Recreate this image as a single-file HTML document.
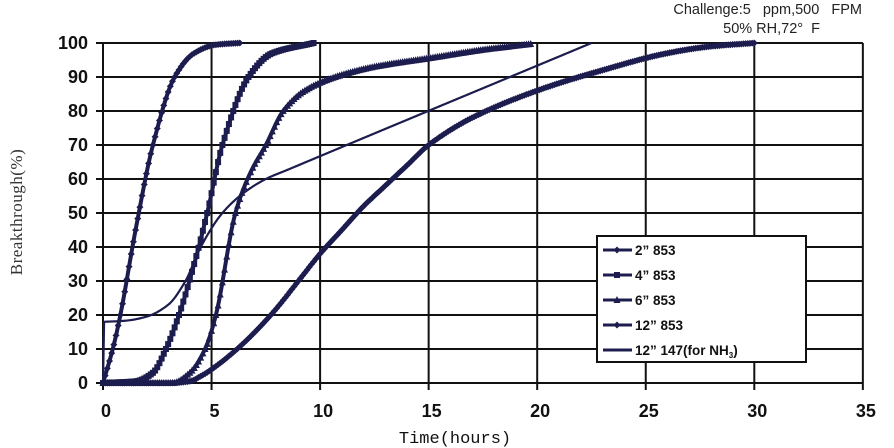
<!DOCTYPE html>
<html><head><meta charset="utf-8"><style>
html,body{margin:0;padding:0;background:#fff;width:894px;height:448px;overflow:hidden}
svg{display:block}
.t{font-family:"Liberation Sans",Arial,sans-serif;font-weight:bold;font-size:18px;fill:#111}
</style></head><body>
<svg id="s" width="894" height="448" xmlns="http://www.w3.org/2000/svg">
<g id="grid" stroke="#111" stroke-width="2"></g>
<g id="series"></g>
<rect x="597" y="236" width="209" height="126" fill="#fff" stroke="#111" stroke-width="2"/>
<g id="leg"></g>
<text x="862" y="14" text-anchor="end" font-family="Liberation Sans,sans-serif" font-size="14.5" fill="#222" xml:space="preserve">Challenge:5   ppm,500   FPM</text>
<text x="820" y="33" text-anchor="end" font-family="Liberation Sans,sans-serif" font-size="14.5" fill="#222" xml:space="preserve">50% RH,72°  F</text>
<text transform="translate(22,212) rotate(-90)" text-anchor="middle" font-family="Liberation Serif,serif" font-size="17" fill="#333" letter-spacing="0.5">Breakthrough(%)</text>
<text x="455" y="443" text-anchor="middle" font-family="Liberation Mono,monospace" font-size="17" fill="#111">Time(hours)</text>
</svg>
<script>
var NS="http://www.w3.org/2000/svg";
function X(t){return 103+21.71*t}
function Y(p){return 383-3.4*p}
function el(n,a,p){var e=document.createElementNS(NS,n);for(var k in a)e.setAttribute(k,a[k]);(p||document.getElementById('s')).appendChild(e);return e}
var g=document.getElementById('grid');
for(var i=0;i<=10;i++){var y=Y(i*10);el('line',{x1:96,x2:X(35),y1:y,y2:y},g);
 var tx=el('text',{x:88,y:y+6,'text-anchor':'end','class':'t'});tx.textContent=i*10;}
for(var j=0;j<=7;j++){var x=X(j*5);el('line',{x1:x,x2:x,y1:Y(100),y2:Y(0)+7},g);
 var tx=el('text',{x:x+3,y:417,'text-anchor':'middle','class':'t'});tx.textContent=j*5;}
var data=[
 {m:'d',p:[[0,0],[0.45,10],[0.8,20],[1.5,45],[2.3,70],[3.3,90],[4.2,97],[5.2,99.5],[6.3,100]]},
 {m:'s',p:[[0,0],[1.5,0.5],[2.3,3],[2.9,10],[3.5,20],[4.2,35],[4.8,50],[5.5,70],[6.7,90],[7.8,97],[9.7,100]]},
 {m:'t',p:[[0,0],[3.2,0],[4,3],[4.7,10],[5.2,20],[6.1,50],[6.8,62],[7.5,70],[8.3,80],[9.3,86],[10.7,90],[12.5,93],[15,95.5],[17.5,98],[19.7,99.7]]},
 {m:'d',p:[[0,0],[3,0],[4,0.5],[4.5,2],[5,4],[6,9],[7,15],[8,22],[9,30],[10,38],[11,45],[12,52],[13,58],[14,64],[15,70],[17,78],[20,86],[23,92],[26,97],[28,99],[30,100]]},
 {m:'',p:[[0,0],[0.05,18],[1,18.3],[2,19.5],[3,23],[3.8,30],[4.5,40],[5.5,50],[6.5,56],[7.5,60],[8.5,62.7],[22.5,100]]}
];
function mono(p){var n=p.length,d=[],m=[];for(var i=0;i<n-1;i++)d.push((p[i+1][1]-p[i][1])/(p[i+1][0]-p[i][0]));
 m[0]=d[0];m[n-1]=d[n-2];for(var i=1;i<n-1;i++){m[i]=(d[i-1]*d[i]<=0)?0:2/(1/d[i-1]+1/d[i]);}
 return function(t){for(var i=0;i<n-1;i++){if(t<=p[i+1][0]||i==n-2){var h=p[i+1][0]-p[i][0],u=(t-p[i][0])/h;if(u>1)u=1;
  var h00=2*u*u*u-3*u*u+1,h10=u*u*u-2*u*u+u,h01=-2*u*u*u+3*u*u,h11=u*u*u-u*u;
  return h00*p[i][1]+h10*h*m[i]+h01*p[i+1][1]+h11*h*m[i+1];}}}}
var sg=document.getElementById('series');var C="#1c1c4e";
function mark(m,x,y,par){
 if(m=='d')el('polygon',{points:(x)+','+(y-3.5)+' '+(x+3.5)+','+y+' '+x+','+(y+3.5)+' '+(x-3.5)+','+y,fill:C},par);
 else if(m=='s')el('rect',{x:x-3,y:y-3,width:6,height:6,fill:C},par);
 else if(m=='t')el('polygon',{points:x+','+(y-4)+' '+(x+3.5)+','+(y+3)+' '+(x-3.5)+','+(y+3),fill:C},par);}
data.forEach(function(s){
 var pts=[];var p=s.p;var tmax=p[p.length-1][0];
 if(!s.m){var f=mono(p.slice(1));pts.push(X(0)+','+Y(0));for(var t=0.05;t<=tmax+1e-6;t+=0.05)pts.push(X(t)+','+Y(f(t)));}
 else{var f=mono(p);for(var t=0;t<=tmax+1e-6;t+=0.05)pts.push(X(t)+','+Y(f(t)));}
 el('polyline',{points:pts.join(' '),fill:'none',stroke:C,'stroke-width':s.m?4:2.2,'stroke-linejoin':'round'},sg);
 if(s.m){for(var t=0;t<=tmax+1e-6;t+=0.1)mark(s.m,X(t),Y(f(t)),sg);}
});
var lg=document.getElementById('leg');
var labs=['2”  853','4”  853','6”  853','12”  853','12”  147(for NH'];
var ms=['d','s','t','d',''];
for(var k=0;k<5;k++){var y=250+k*25;
 el('line',{x1:603,x2:632,y1:y,y2:y,stroke:C,'stroke-width':3},lg);
 if(ms[k])mark(ms[k],617,y,lg);
 var tx=el('text',{x:635,y:y+5,'font-family':'Liberation Sans,sans-serif','font-weight':'bold','font-size':'13.5',fill:'#111','xml:space':'preserve'},lg);
 tx.textContent=labs[k];
 if(k==4){var s1=document.createElementNS(NS,'tspan');s1.setAttribute('font-size','8');s1.setAttribute('dy','3');s1.textContent='3';tx.appendChild(s1);
  var s2=document.createElementNS(NS,'tspan');s2.setAttribute('dy','-3');s2.textContent=')';tx.appendChild(s2);}
}
</script>
</body></html>
